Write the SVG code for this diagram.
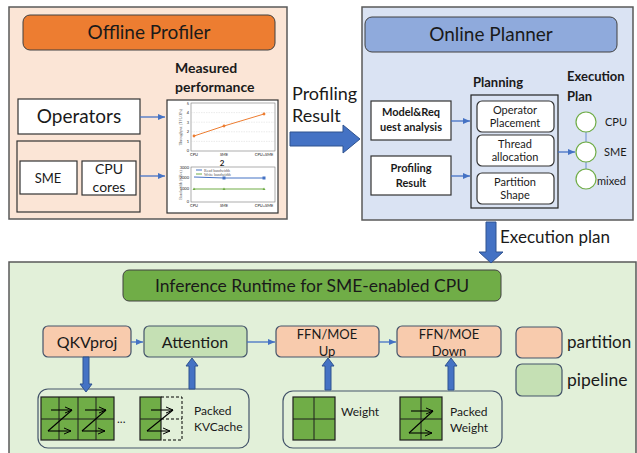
<svg xmlns="http://www.w3.org/2000/svg" width="637" height="453" viewBox="0 0 637 453">
<defs>
<marker id="ah" markerWidth="8" markerHeight="8" refX="7" refY="4" orient="auto" markerUnits="userSpaceOnUse">
<path d="M0,1 L7,4 L0,7 z" fill="#4472c4"/>
</marker>
<marker id="zh" markerWidth="8" markerHeight="8" refX="7" refY="4" orient="auto" markerUnits="userSpaceOnUse">
<path d="M0,1 L7,4 L0,7" fill="none" stroke="#000" stroke-width="1"/>
</marker>
<style>
text{font-family:Lato,"Noto Sans","Liberation Sans",sans-serif;fill:#1a1a1a}
.c{text-anchor:middle}
.b{font-weight:bold}
.outer{stroke:#595959;stroke-width:1.5}
.wb{fill:#fff;stroke:#333;stroke-width:1.2}
.rb{fill:#fff;stroke:#333;stroke-width:1.2}
.thin{stroke:#4472c4;stroke-width:1.3;fill:none;marker-end:url(#ah)}
.big{fill:#4472c4;stroke:#2f528f;stroke-width:1}
.g{fill:#70ad47;stroke:#1e1e1e;stroke-width:1.2}
.gl{stroke:#1e1e1e;stroke-width:1}
.z{fill:none;stroke:#000;stroke-width:1.1}
.za{fill:none;stroke:#000;stroke-width:1.1;marker-end:url(#zh)}
.tk{font-size:4px;fill:#555;font-family:"Liberation Serif",serif}
</style>
</defs>

<g id="offline-profiler">
<rect x="9" y="7" width="278" height="212" fill="#fbe5d6" class="outer"/>
<rect x="23" y="15" width="252" height="35" rx="7" fill="#ed7d31" stroke="#404040" stroke-width="1"/>
<text x="149" y="39" class="c" font-size="19">Offline Profiler</text>
<text x="175" y="73" class="b" font-size="14">Measured</text>
<text x="175" y="92" class="b" font-size="14">performance</text>
</g>

<g id="operators">
<rect x="18" y="99" width="122" height="35" class="wb"/>
<text x="79" y="123" class="c" font-size="19">Operators</text>
</g>

<g id="hardware">
<rect x="17" y="141" width="123" height="71" fill="none" stroke="#333" stroke-width="1.2"/>
<rect x="20" y="161" width="57" height="33" class="wb"/>
<text x="48" y="183" class="c" font-size="13">SME</text>
<rect x="82" y="161" width="54" height="34" class="wb"/>
<text x="109" y="174" class="c" font-size="14">CPU</text>
<text x="109" y="192" class="c" font-size="14">cores</text>
</g>

<g id="chart">
<rect x="167" y="100" width="111" height="113" class="wb"/>
<rect x="191" y="103" width="84" height="48" fill="none" stroke="#777" stroke-width="0.6"/>
<g stroke="#ccc" stroke-width="0.4" stroke-dasharray="1.5,1">
<line x1="191" y1="112.6" x2="275" y2="112.6"/><line x1="191" y1="122.2" x2="275" y2="122.2"/><line x1="191" y1="131.8" x2="275" y2="131.8"/><line x1="191" y1="141.4" x2="275" y2="141.4"/>
</g>
<g class="tk" text-anchor="end">
<text x="189" y="105">5</text><text x="189" y="114">4</text><text x="189" y="124">3</text><text x="189" y="133">2</text><text x="189" y="143">1</text><text x="189" y="152">0</text>
</g>
<text x="182" y="127" class="tk" text-anchor="middle" transform="rotate(-90 182 127)">Throughput (TFLOPs)</text>
<polyline points="194,136 224,126 264,114" fill="none" stroke="#ed7d31" stroke-width="1"/>
<g fill="#ed7d31"><circle cx="194" cy="136" r="1.4"/><circle cx="224" cy="126" r="1.4"/><circle cx="264" cy="114" r="1.4"/></g>
<g class="tk" text-anchor="middle"><text x="194" y="156">CPU</text><text x="224" y="156">SME</text><text x="264" y="156">CPU+SME</text></g>
<text x="222" y="166" class="c b" font-size="8" font-family="Liberation Sans,sans-serif">2</text>
<rect x="191" y="167" width="84" height="35" fill="none" stroke="#777" stroke-width="0.6"/>
<g class="tk" text-anchor="end"><text x="189" y="169">3000</text><text x="189" y="179">2000</text><text x="189" y="190">1000</text><text x="189" y="203">0</text></g>
<text x="182" y="185" class="tk" text-anchor="middle" transform="rotate(-90 182 185)">Bandwidth (GB/s)</text>
<line x1="196" y1="170" x2="202" y2="170" stroke="#4472c4" stroke-width="1"/><text x="204" y="171.5" class="tk">Read bandwidth</text>
<line x1="196" y1="174" x2="202" y2="174" stroke="#70ad47" stroke-width="1"/><text x="204" y="175.5" class="tk">Write bandwidth</text>
<polyline points="194,177 224,178 264,178" fill="none" stroke="#4472c4" stroke-width="1"/>
<g fill="#4472c4"><rect x="222.5" y="176.5" width="3" height="3"/><rect x="262.5" y="176.5" width="3" height="3"/></g>
<polyline points="194,189 224,189 264,189" fill="none" stroke="#70ad47" stroke-width="1"/>
<g fill="#70ad47"><path d="M194,187.5 l1.5,2.5 h-3z"/><path d="M224,187.5 l1.5,2.5 h-3z"/><path d="M264,187.5 l1.5,2.5 h-3z"/></g>
<g class="tk" text-anchor="middle"><text x="194" y="207">CPU</text><text x="224" y="207">SME</text><text x="264" y="207">CPU+SME</text></g>
</g>

<g id="online-planner">
<rect x="362" y="7" width="271" height="213" fill="#dae3f3" class="outer"/>
<rect x="365" y="17" width="252" height="35" rx="7" fill="#8faadc" stroke="#404040" stroke-width="1"/>
<text x="491" y="41" class="c" font-size="19">Online Planner</text>
<text x="473" y="87" class="b" font-size="13">Planning</text>
<text x="567" y="81" class="b" font-size="13">Execution</text>
<text x="567" y="101" class="b" font-size="13">Plan</text>
</g>

<g id="model-request">
<rect x="371" y="101" width="80" height="39" class="wb"/>
<text x="411" y="116" class="c b" font-size="11">Model&amp;Req</text>
<text x="411" y="131" class="c b" font-size="11">uest analysis</text>
</g>

<g id="profiling-result-box">
<rect x="371" y="156" width="80" height="39" class="wb"/>
<text x="411" y="172" class="c b" font-size="11">Profiling</text>
<text x="411" y="187" class="c b" font-size="11">Result</text>
</g>

<g id="planning">
<rect x="471" y="95" width="87" height="113" fill="none" stroke="#222" stroke-width="1.2"/>
<rect x="477" y="101" width="77" height="31" rx="5" class="rb"/>
<text x="515" y="114" class="c" font-size="11">Operator</text>
<text x="515" y="127" class="c" font-size="11">Placement</text>
<rect x="477" y="135" width="77" height="31" rx="5" class="rb"/>
<text x="515" y="148" class="c" font-size="11">Thread</text>
<text x="515" y="161" class="c" font-size="11">allocation</text>
<rect x="477" y="173" width="77" height="31" rx="5" class="rb"/>
<text x="515" y="186" class="c" font-size="11">Partition</text>
<text x="515" y="199" class="c" font-size="11">Shape</text>
</g>

<g id="execution-plan-options">
<line x1="586" y1="130" x2="586" y2="171" stroke="#8faadc" stroke-width="1.5"/>
<circle cx="586" cy="122" r="10" fill="#fff" stroke="#70ad47" stroke-width="1.2"/>
<circle cx="586" cy="152" r="10" fill="#fff" stroke="#70ad47" stroke-width="1.2"/>
<circle cx="586" cy="179" r="10" fill="#fff" stroke="#70ad47" stroke-width="1.2"/>
<text x="605" y="126" font-size="11">CPU</text>
<text x="604" y="156" font-size="11">SME</text>
<text x="597" y="185" font-size="11">mixed</text>
</g>

<g id="runtime">
<rect x="9" y="262" width="627" height="193" fill="#e2f0d9" class="outer"/>
<rect x="123" y="270" width="378" height="31" rx="6" fill="#70ad47" stroke="#404040" stroke-width="1"/>
<text x="312" y="292" class="c" font-size="17.5">Inference Runtime for SME-enabled CPU</text>
</g>

<g id="qkvproj">
<rect x="43" y="326" width="88" height="31" rx="5" fill="#f8cbad" stroke="#44546a" stroke-width="1.2"/>
<text x="87" y="348" class="c" font-size="16">QKVproj</text>
</g>
<g id="attention">
<rect x="144" y="326" width="103" height="31" rx="5" fill="#c5e0b4" stroke="#44546a" stroke-width="1.2"/>
<text x="195" y="348" class="c" font-size="16">Attention</text>
</g>
<g id="ffn-up">
<rect x="276" y="326" width="103" height="31" rx="5" fill="#f8cbad" stroke="#44546a" stroke-width="1.2"/>
<text x="327" y="339" class="c" font-size="13">FFN/MOE</text>
<text x="327" y="356" class="c" font-size="13">Up</text>
</g>
<g id="ffn-down">
<rect x="397" y="326" width="104" height="31" rx="5" fill="#f8cbad" stroke="#44546a" stroke-width="1.2"/>
<text x="449" y="339" class="c" font-size="13">FFN/MOE</text>
<text x="449" y="356" class="c" font-size="13">Down</text>
</g>

<g id="legend">
<rect x="516" y="327" width="46" height="31" rx="6" fill="#f8cbad" stroke="#44546a" stroke-width="1.2"/>
<text x="567" y="348" font-size="17">partition</text>
<rect x="516" y="364" width="46" height="32" rx="6" fill="#c5e0b4" stroke="#44546a" stroke-width="1.2"/>
<text x="567" y="386" font-size="17.5">pipeline</text>
</g>

<g id="kvcache">
<rect x="38" y="389" width="211" height="59" rx="10" fill="#e2f0d9" stroke="#44546a" stroke-width="1.2"/>
<rect x="41" y="397" width="73" height="43" class="g"/>
<line x1="59" y1="397" x2="59" y2="440" class="gl"/><line x1="78" y1="397" x2="78" y2="440" class="gl"/><line x1="96" y1="397" x2="96" y2="440" class="gl"/><line x1="41" y1="419" x2="114" y2="419" class="gl"/>
<line x1="51" y1="410" x2="72" y2="410" class="za"/><line x1="72" y1="410" x2="48" y2="431" class="z"/><line x1="48" y1="431" x2="71" y2="431" class="za"/>
<line x1="85" y1="410" x2="106" y2="410" class="za"/><line x1="106" y1="410" x2="82" y2="431" class="z"/><line x1="82" y1="431" x2="105" y2="431" class="za"/>
<text x="117" y="423" font-size="12">...</text>
<rect x="140" y="397" width="21" height="43" class="g"/>
<line x1="140" y1="419" x2="161" y2="419" class="gl"/>
<path d="M161,397 H182 V440 H161 M161,419 H182" fill="none" stroke="#000" stroke-width="1" stroke-dasharray="3,2"/>
<line x1="151" y1="410" x2="173" y2="410" class="za"/><line x1="173" y1="410" x2="147" y2="431" class="z"/><line x1="147" y1="431" x2="170" y2="431" class="za"/>
<text x="194" y="415" font-size="12">Packed</text>
<text x="194" y="431" font-size="12">KVCache</text>
</g>

<g id="weights">
<rect x="283" y="391" width="219" height="57" rx="10" fill="#e2f0d9" stroke="#44546a" stroke-width="1.2"/>
<rect x="293" y="397" width="42" height="43" class="g"/>
<line x1="314" y1="397" x2="314" y2="440" class="gl"/><line x1="293" y1="419" x2="335" y2="419" class="gl"/>
<text x="341" y="416" font-size="12">Weight</text>
<rect x="400" y="397" width="42" height="43" class="g"/>
<line x1="421" y1="397" x2="421" y2="440" class="gl"/><line x1="400" y1="419" x2="442" y2="419" class="gl"/>
<line x1="411" y1="411" x2="433" y2="411" class="za"/><line x1="433" y1="411" x2="409" y2="433" class="z"/><line x1="409" y1="433" x2="432" y2="433" class="za"/>
<text x="450" y="416" font-size="12">Packed</text>
<text x="450" y="432" font-size="12">Weight</text>
</g>

<g id="connectors">
<line x1="140" y1="117" x2="165" y2="117" class="thin"/>
<line x1="140" y1="176" x2="165" y2="176" class="thin"/>
<line x1="451" y1="121" x2="470" y2="121" class="thin"/>
<line x1="451" y1="176" x2="470" y2="176" class="thin"/>
<line x1="558" y1="152" x2="575" y2="152" class="thin"/>
<line x1="131" y1="342" x2="143" y2="342" class="thin"/>
<line x1="247" y1="342" x2="275" y2="342" class="thin"/>
<line x1="379" y1="342" x2="396" y2="342" class="thin"/>
<polygon points="290,132 343,132 343,125 360,139 343,153 343,146 290,146" class="big"/>
<text x="292" y="100" font-size="18">Profiling</text>
<text x="292" y="122" font-size="18">Result</text>
<polygon points="486,222 496,222 496,252 503,252 491,263 479,252 486,252" class="big"/>
<text x="500" y="243" font-size="17">Execution plan</text>
<polygon points="83,357 89,357 89,384 92,384 86,392 80,384 83,384" class="big"/>
<polygon points="189,389 195,389 195,366 198,366 192,358 186,366 189,366" class="big"/>
<polygon points="325,390 331,390 331,366 334,366 328,358 322,366 325,366" class="big"/>
<polygon points="448,390 454,390 454,366 457,366 451,358 445,366 448,366" class="big"/>
</g>
</svg>
